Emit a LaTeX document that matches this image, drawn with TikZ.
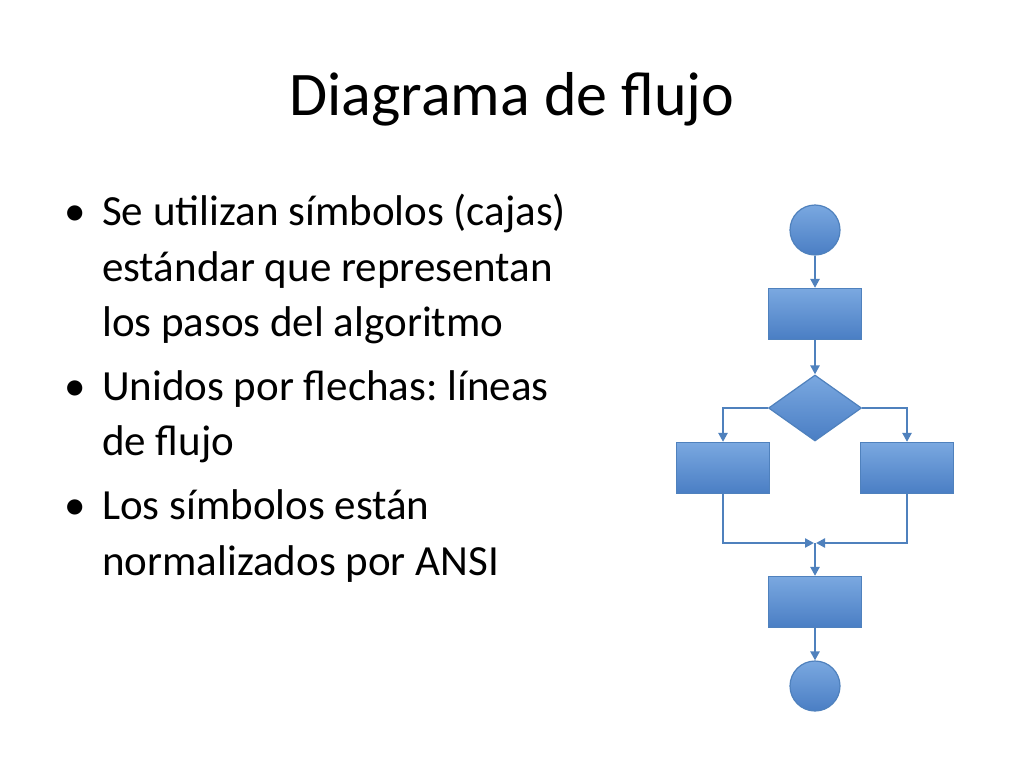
\documentclass[tikz,border=0pt]{standalone}
\usepackage{fontspec}
\setmainfont{Carlito}
\usetikzlibrary{shapes.geometric,arrows.meta}
\frenchspacing
\begin{document}
\begin{tikzpicture}[x=1pt,y=-1pt,
 sym/.style={draw=fcLine, line width=1.2pt, top color=fcTop, bottom color=fcBot, inner sep=0pt},
 box/.style={sym, rectangle, minimum width=93pt, minimum height=51pt},
 term/.style={sym, circle, minimum size=50pt},
 dec/.style={sym, diamond, minimum width=93pt, minimum height=66pt},
 flow/.style={draw=fcLine, line width=2.8pt, -{Triangle[length=9pt,width=9pt]}},
 txt/.style={anchor=base west, font=\fontsize{43}{54}\selectfont, inner sep=0pt}]
\definecolor{fcTop}{HTML}{7AA8E0}
\definecolor{fcBot}{HTML}{4A7EC4}
\definecolor{fcLine}{HTML}{4F81BD}
\useasboundingbox[fill=white] (0,0) rectangle (1024,768);
\node[anchor=base, font=\fontsize{62}{70}\selectfont, inner sep=0pt] (title) at (512,115) {Diagrama de flujo};
\node[txt] (b1) at (64,225) {•};
\node[txt] (t1) at (102,225) {Se utilizan símbolos (cajas)};
\node[txt] (t1b) at (102,281) {estándar que representan};
\node[txt] (t1c) at (102,336) {los pasos del algoritmo};
\node[txt] (b2) at (64,400) {•};
\node[txt] (t2) at (102,400) {Unidos por flechas: líneas};
\node[txt] (t2b) at (102,455) {de flujo};
\node[txt] (b3) at (64,519) {•};
\node[txt] (t3) at (102,519) {Los símbolos están};
\node[txt] (t3b) at (102,575) {normalizados por ANSI};
\node[term] (c1) at (815,230) {};
\node[box] (r1) at (815,314) {};
\node[dec] (d) at (815,408) {};
\node[box] (rl) at (723,468) {};
\node[box] (rr) at (907,468) {};
\node[box] (r2) at (815,602) {};
\node[term] (c2) at (815,686) {};
\coordinate (m) at (815,543);
\draw[flow] (c1) -- (r1);
\draw[flow] (r1) -- (d);
\draw[flow] (d.west) -| (rl.north);
\draw[flow] (d.east) -| (rr.north);
\draw[flow] (rl.south) |- ([xshift=-1pt]m);
\draw[flow] (rr.south) |- ([xshift=1pt]m);
\draw[flow] (m) -- (r2.north);
\draw[flow] (r2) -- (c2);
\end{tikzpicture}
\end{document}
